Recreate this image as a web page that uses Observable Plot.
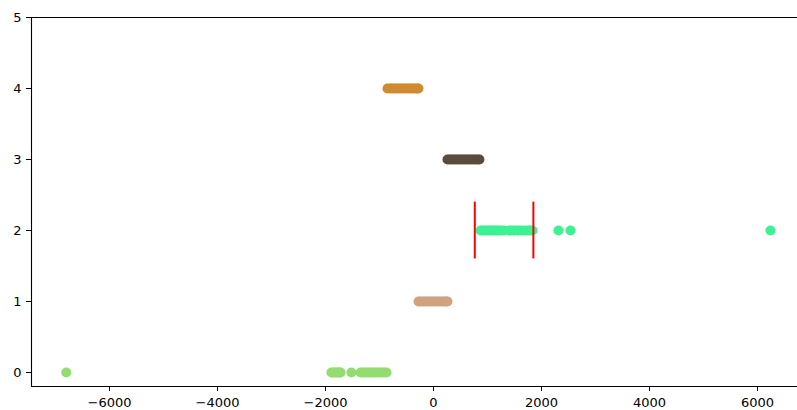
<!DOCTYPE html>
<html>
<head>
<meta charset="utf-8">
<script src="https://cdn.jsdelivr.net/npm/d3@7"></script>
<script src="https://cdn.jsdelivr.net/npm/@observablehq/plot@0.6"></script>
<style>
  html, body { margin: 0; padding: 0; background: #fff; }
  #chart svg { display: block; }
</style>
</head>
<body>
<div id="chart"></div>
<script>
// Observed values for each group (x position), group index is the y level
const group0 = [-6800, -1890, -1860, -1830, -1800, -1770, -1740, -1720, -1520, -1350, -1310, -1270, -1230, -1190, -1150, -1110, -1070, -1030, -990, -950, -910, -870];
const group1 = [-278, -240, -200, -160, -120, -80, -40, 0, 40, 80, 120, 160, 200, 230, 259];
const group2 = [870, 910, 950, 990, 1030, 1070, 1110, 1150, 1190, 1240, 1300, 1400, 1440, 1500, 1560, 1620, 1700, 1760, 1800, 1833, 2315, 2537, 6240];
const group3 = [259, 300, 340, 380, 420, 460, 500, 540, 580, 620, 660, 700, 740, 780, 820, 852];
const group4 = [-852, -810, -770, -730, -690, -650, -610, -570, -530, -490, -450, -410, -370, -330, -300, -278];

const groupColors = ["#93dc70", "#d0a27f", "#3cf291", "#5a4c3c", "#d08a2f"];

// Interval markers drawn on group 2
const markerX = [765, 1850];
const markerSpan = [1.6, 2.4];

const xTicks = [-6000, -4000, -2000, 0, 2000, 4000, 6000];
const yTicks = [0, 1, 2, 3, 4, 5];

const xDomain = [-7444, 6741];
const yDomain = [-0.197, 5];

const groups = [group0, group1, group2, group3, group4];
const points = groups.flatMap((vals, g) => vals.map(v => ({x: v, y: g, color: groupColors[g]})));
const markers = markerX.map(x => ({x, y1: markerSpan[0], y2: markerSpan[1]}));

const fmt = d => (d < 0 ? "\u2212" + Math.abs(d) : String(d));

const chart = Plot.plot({
  width: 797,
  height: 410,
  marginLeft: 31,
  marginRight: 0,
  marginTop: 17,
  marginBottom: 24,
  style: {fontFamily: "DejaVu Sans", fontSize: "13px", color: "#000", background: "#fff"},
  x: {domain: xDomain},
  y: {domain: yDomain},
  marks: [
    Plot.dot(points, {x: "x", y: "y", r: 5, fill: "color", stroke: null}),
    Plot.ruleX(markers, {x: "x", y1: "y1", y2: "y2", stroke: "#ff0000", strokeWidth: 2}),
    Plot.ruleX([xDomain[0]], {stroke: "#000", strokeWidth: 1.1}),
    Plot.ruleY([yDomain[0], yDomain[1]], {stroke: "#000", strokeWidth: 1.1}),
    Plot.axisX({ticks: xTicks, tickFormat: fmt, tickSize: 5, tickPadding: 6, label: null, fontSize: 13, stroke: "#000"}),
    Plot.axisY({ticks: yTicks, tickFormat: fmt, tickSize: 5, tickPadding: 5, label: null, fontSize: 13, stroke: "#000"})
  ]
});

document.getElementById("chart").appendChild(chart);
</script>
</body>
</html>
